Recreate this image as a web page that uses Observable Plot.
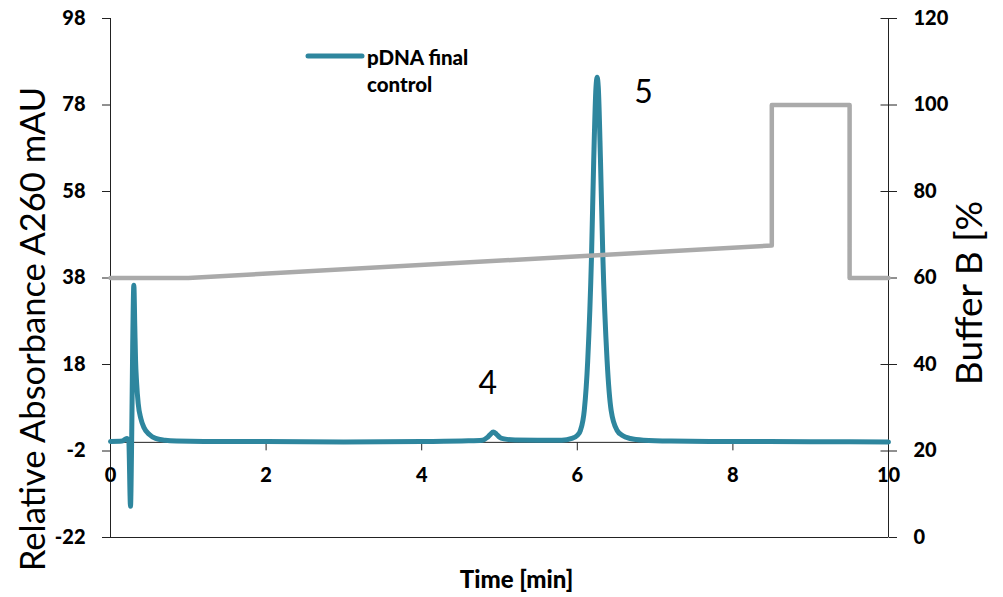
<!DOCTYPE html>
<html><head><meta charset="utf-8">
<script src="https://cdn.jsdelivr.net/npm/d3@7"></script>
<script src="https://cdn.jsdelivr.net/npm/@observablehq/plot@0.6"></script>
<style>
html,body{margin:0;padding:0;background:#fff;}
#chart svg{font-family:Lato,"Open Sans",sans-serif;display:block;}
</style></head><body><div id="chart"></div>
<script>
// ---- data ----
const signalTime = [0, 0.15, 0.21, 0.235, 0.257, 0.272, 0.285, 0.3, 0.312, 0.322, 0.335, 0.356, 0.39, 0.428, 0.5, 0.58, 0.7, 0.85, 1.2, 2, 3, 4, 4.6, 4.78, 4.84, 4.88, 4.92, 4.96, 5.0, 5.06, 5.2, 5.5, 5.8, 5.93, 6.0, 6.04, 6.09, 6.134, 6.183, 6.211, 6.24, 6.255, 6.27, 6.298, 6.328, 6.383, 6.435, 6.512, 6.58, 6.68, 6.85, 7.2, 8, 9, 10];
const signalValue = [0.2, 0.3, 0.9, 0.2, -14.8, 0.5, 22, 36.3, 27, 19, 14, 9, 5.5, 3.5, 1.8, 0.9, 0.5, 0.3, 0.2, 0.2, 0.1, 0.2, 0.35, 0.5, 1.1, 1.8, 2.4, 1.9, 1.2, 0.8, 0.55, 0.5, 0.5, 0.9, 1.6, 2.75, 7.4, 18.9, 43.2, 65.2, 82, 84.4, 82, 65.2, 43.2, 18.9, 7.4, 2.75, 1.6, 0.9, 0.5, 0.3, 0.2, 0.15, 0.1];
const bufferTime = [0, 1, 8.5, 8.5, 9.5, 9.5, 10];
const bufferValue = [60, 60, 67.5, 100, 100, 60, 60];
const xDomain = [0, 10];
const leftDomain = [-22, 98];
const rightDomain = [0, 120];
const xTicks = [0, 2, 4, 6, 8, 10];
const leftTicks = [-22, -2, 18, 38, 58, 78, 98];
const rightTicks = [0, 20, 40, 60, 80, 100, 120];
const peakLabels = ["4", "5"];
const peakTime = [4.85, 6.85];
const peakValue = [13.6, 80.9];
const seriesName = ["pDNA final", "control"];
const leftTitle = "Relative Absorbance A260 mAU";
const rightTitle = "Buffer B [%";
const xTitle = "Time [min]";

const blue = "#2E869E";
const gray = "#AAAAAA";
const axisColor = "#222";

// right axis shares the left axis' unit size; shift only
const rightOffset = leftDomain[0] - rightDomain[0];
const toLeft = v => v + rightOffset;

const signal = signalTime.map((t, i) => ({t, v: signalValue[i]}));
const buffer = bufferTime.map((t, i) => ({t, v: toLeft(bufferValue[i])}));
const peaks = peakLabels.map((s, i) => ({s, t: peakTime[i], v: peakValue[i]}));

const tickDown = {draw(ctx) { ctx.moveTo(0, 0); ctx.lineTo(0, 8); }};
const tickIn = {draw(ctx) { ctx.moveTo(-8, 0); ctx.lineTo(0, 0); }};

const svg = Plot.plot({
  width: 1003, height: 597,
  marginLeft: 110, marginRight: 115, marginTop: 18, marginBottom: 60,
  x: {domain: xDomain, axis: null},
  y: {domain: leftDomain, axis: null},
  style: {fontFamily: "Lato, 'Open Sans', sans-serif", fontSize: "20px", color: "#000", background: "#fff", overflow: "visible"},
  marks: [
    Plot.ruleX([xDomain[0], xDomain[1]], {stroke: axisColor, strokeWidth: 1}),
    Plot.ruleY([leftDomain[0], 0], {stroke: axisColor, strokeWidth: 1}),
    Plot.axisY({anchor: "left", ticks: leftTicks, tickFormat: d => String(d), tickSize: 8, tickPadding: 17, label: null, fontWeight: 900, fontSize: 20, stroke: axisColor}),
    Plot.axisY({anchor: "right", ticks: rightTicks.map(toLeft), tickFormat: d => String(d - rightOffset), tickSize: 8, tickPadding: 17, label: null, fontWeight: 900, fontSize: 20, stroke: axisColor}),
    Plot.dot(rightTicks, {x: () => xDomain[1], y: d => toLeft(d), symbol: tickIn, fill: "none", stroke: axisColor, strokeWidth: 1}),
    Plot.dot(xTicks, {x: d => d, y: () => 0, symbol: tickDown, fill: "none", stroke: axisColor, strokeWidth: 1}),
    Plot.text(xTicks, {x: d => d, y: () => 0, dy: 33, text: d => String(d), fontWeight: 900, fontSize: 20}),
    Plot.line(signal, {x: "t", y: "v", stroke: blue, strokeWidth: 5, curve: "monotone-x", strokeLinejoin: "round", strokeLinecap: "round"}),
    Plot.line(buffer, {x: "t", y: "v", stroke: gray, strokeWidth: 4.5, strokeLinejoin: "round"}),
    Plot.text(peaks, {x: "t", y: "v", text: "s", fontSize: 32}),
    Plot.text([leftTitle], {frameAnchor: "left", textAnchor: "middle", lineAnchor: "middle", dx: -77, dy: 51, rotate: -90, fontSize: 34.5, text: d => d}),
    Plot.text([rightTitle], {frameAnchor: "right", textAnchor: "middle", lineAnchor: "middle", dx: 82, dy: 15, rotate: -90, fontSize: 37, text: d => d}),
    Plot.text([xTitle], {frameAnchor: "bottom", textAnchor: "middle", lineAnchor: "middle", dx: 17, dy: 43, fontSize: 24, fontWeight: 900, text: d => d})
  ]
});

// legend (inside the plot area, top-left)
const g = d3.select(svg).append("g");
const lx = 110 + 198, ly = 18 + 38;
g.append("line").attr("x1", lx).attr("x2", lx + 54).attr("y1", ly).attr("y2", ly)
  .attr("stroke", blue).attr("stroke-width", 5).attr("stroke-linecap", "round");
const lt = g.append("text").attr("font-weight", 900).attr("font-size", 20.5).attr("fill", "#000").attr("text-anchor", "start");
seriesName.forEach((s, i) => lt.append("tspan").attr("x", lx + 59).attr("y", ly + 9 + i * 27).text(s));

document.getElementById("chart").appendChild(svg);
</script>
</body></html>
